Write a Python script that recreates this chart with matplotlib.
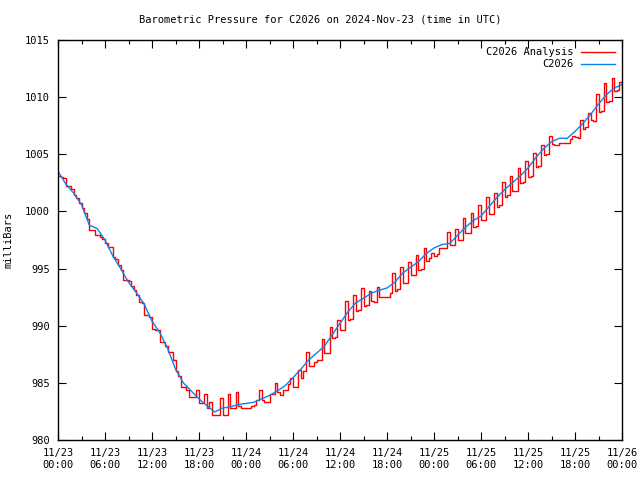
import numpy as np
import matplotlib
matplotlib.use("Agg")
import matplotlib.pyplot as plt
import matplotlib.dates as mdates
from datetime import datetime, timedelta

title = "Barometric Pressure for C2026 on 2024-Nov-23 (time in UTC)"
start = datetime(2024, 11, 23, 0, 0)

# Hourly station values (C2026), hours 0..72
station = [1003.5, 1002.4, 1001.6, 1000.6, 998.8, 998.5, 997.5, 996.1, 995.0, 993.8,
           992.9, 991.9, 990.4, 989.4, 988.0, 986.2, 985.0, 984.3, 983.6, 983.0,
           982.45, 982.8, 982.9, 983.1, 983.2, 983.3, 983.6, 983.9, 984.3, 984.75,
           985.45, 986.2, 987.0, 987.6, 988.2, 989.2, 990.2, 991.2, 992.0, 992.4,
           992.85, 993.1, 993.3, 993.8, 994.6, 995.1, 995.6, 996.3, 996.8, 997.1,
           997.2, 997.9, 998.6, 999.2, 999.6, 1000.4, 1001.2, 1001.9, 1002.5, 1003.1,
           1003.8, 1004.7, 1005.5, 1006.1, 1006.4, 1006.4, 1007.0, 1007.7, 1008.5, 1009.4,
           1010.2, 1010.8, 1011.1]

# Analysis values at :00, :20 and :40 of each hour 0..71
ana_00 = [1003.1, 1002.2, 1001.4, 1000.3, 998.4, 997.9, 997.2, 996.0, 994.9, 993.9,
          992.7, 990.9, 989.7, 988.6, 987.7, 986.0, 984.6, 983.8, 983.2, 982.8,
          982.2, 982.2, 982.8, 983.0, 982.8, 983.1, 983.5, 984.0, 984.2, 984.4,
          984.6, 985.4, 986.5, 987.0, 987.6, 988.9, 989.6, 990.5, 991.3, 991.7,
          992.2, 992.5, 992.5, 993.0, 993.7, 994.4, 994.9, 995.7, 996.1, 996.8,
          997.1, 997.5, 998.1, 998.6, 999.25, 999.8, 1000.4, 1001.3, 1001.8, 1002.5,
          1003.0, 1003.9, 1004.9, 1005.9, 1006.0, 1006.0, 1006.5, 1007.2, 1008.0, 1008.7,
          1009.6, 1010.5]
ana_20 = [1003.0, 1002.2, 1001.2, 999.9, 998.4, 997.8, 996.9, 995.8, 994.0, 993.5,
          992.1, 990.9, 989.6, 988.6, 987.7, 985.6, 984.4, 983.8, 983.2, 983.3,
          982.2, 982.2, 982.8, 982.8, 982.8, 983.5, 983.3, 984.0, 983.9, 984.9,
          984.6, 986.0, 986.5, 987.0, 987.6, 989.0, 989.6, 990.6, 991.4, 991.8,
          992.1, 992.5, 992.9, 993.2, 993.7, 994.4, 995.0, 995.9, 996.3, 996.8,
          997.1, 997.5, 998.1, 998.7, 999.25, 999.8, 1000.6, 1001.4, 1001.8, 1002.6,
          1003.1, 1004.0, 1005.0, 1005.8, 1006.0, 1006.3, 1006.4, 1007.4, 1007.9, 1008.8,
          1009.7, 1010.6]
ana_40 = [1002.9, 1002.0, 1000.7, 999.3, 997.9, 997.6, 996.9, 995.3, 994.0, 993.1,
          992.0, 990.8, 989.6, 988.2, 987.0, 984.6, 983.8, 984.4, 984.0, 982.2,
          983.7, 984.0, 984.2, 982.8, 983.0, 984.4, 983.3, 985.0, 984.4, 985.4,
          986.1, 987.7, 986.8, 988.8, 989.9, 990.5, 992.2, 992.7, 993.3, 993.0,
          993.4, 992.5, 994.6, 995.1, 995.6, 996.2, 996.8, 996.4, 996.8, 998.2,
          998.5, 999.4, 999.9, 1000.6, 1001.3, 1001.6, 1002.6, 1003.1, 1003.8, 1004.4,
          1005.1, 1005.8, 1006.6, 1005.8, 1006.0, 1006.6, 1008.0, 1008.6, 1010.3, 1011.2,
          1011.7, 1011.3]
ana_last = 1010.8

st_times = [start + timedelta(hours=h) for h in range(len(station))]
ana_vals = []
ana_times = []
for h in range(len(ana_00)):
    for m, arr in ((0, ana_00), (20, ana_20), (40, ana_40)):
        ana_times.append(start + timedelta(hours=h, minutes=m))
        ana_vals.append(arr[h])
ana_times.append(start + timedelta(hours=72))
ana_vals.append(ana_last)

plt.rcParams['font.family'] = ['DejaVu Sans Mono']
fig = plt.figure(figsize=(6.4, 4.8), dpi=100)
ax = fig.add_axes([58/640, 1-440/480, 564/640, 400/480])

ax.plot(ana_times, ana_vals, color='#ff0000', lw=1.0, drawstyle='steps-post', label='C2026 Analysis')
ax.plot(st_times, station, color='#0a84f0', lw=1.0, label='C2026')

ax.set_xlim(start, start + timedelta(hours=72))
ax.set_ylim(980, 1015)
ax.set_yticks(np.arange(980, 1016, 5))
ax.xaxis.set_major_locator(mdates.HourLocator(byhour=[0, 6, 12, 18]))
ax.xaxis.set_minor_locator(mdates.HourLocator(byhour=[3, 9, 15, 21]))
ax.xaxis.set_major_formatter(mdates.DateFormatter('%m/%d\n%H:%M'))
ax.tick_params(which='both', direction='in', top=True, right=True, labelsize=7.5, pad=6)
ax.tick_params(which='major', length=6, width=0.8)
ax.tick_params(which='minor', length=3, width=0.8)
ax.tick_params(axis='y', which='minor', length=0)
for s in ax.spines.values():
    s.set_linewidth(1.0)

ax.set_ylabel('milliBars', fontsize=7.5, labelpad=8)
fig.text(0.5, 1-19/480, title, ha='center', va='center', fontsize=7.5)

leg = ax.legend(loc='upper right', frameon=False, fontsize=7.5, markerfirst=False,
                handlelength=3.2, borderaxespad=0.3, labelspacing=0.2)
for t in leg.get_texts():
    t.set_ha('right')
leg._legend_box.align = 'right'

fig.savefig('out.png', dpi=100)
